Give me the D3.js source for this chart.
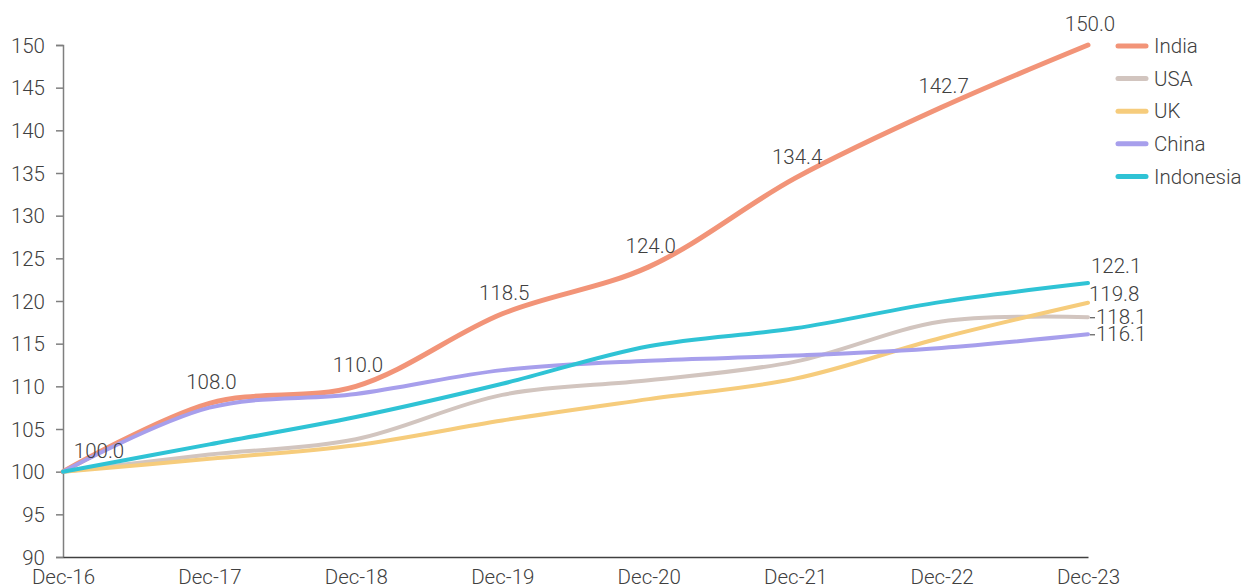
<!DOCTYPE html>
<html><head><meta charset="utf-8">
<script src="https://cdn.jsdelivr.net/npm/d3@7"></script>
<style>
html,body{margin:0;padding:0;background:#fff;}
svg{display:block;font-family:"Roboto";}
</style></head>
<body><svg id="chart" width="1244" height="585"></svg>
<script>
const categories = ["Dec-16","Dec-17","Dec-18","Dec-19","Dec-20","Dec-21","Dec-22","Dec-23"];
const seriesNames = ["India","USA","UK","China","Indonesia"];
const india     = [100.0,108.0,110.0,118.5,124.0,134.4,142.7,150.0];
const usa       = [100.0,102.0,103.8,109.0,110.7,112.9,117.6,118.1];
const uk        = [100.0,101.5,103.1,106.0,108.5,110.9,115.7,119.8];
const china     = [100.0,107.5,109.1,111.9,113.0,113.6,114.5,116.1];
const indonesia = [100.0,103.2,106.4,110.3,114.7,116.8,119.9,122.1];
const yTicks = [90,95,100,105,110,115,120,125,130,135,140,145,150];

const colors = {India:"#F29478",USA:"#D2C5BF",UK:"#F6CC7C",China:"#A79FEC",Indonesia:"#2FC3D5"};
const dataMap = {India:india,USA:usa,UK:uk,China:china,Indonesia:indonesia};

const svg = d3.select("#chart");
const x = d3.scalePoint().domain(categories).range([63,1088]);
const y = d3.scaleLinear().domain([90,150]).range([557,45]);
const textColor = "#404040";
const fs = "20.5px";
const fw = 300;

// Y axis
const ya = svg.append("g").attr("transform","translate(63,0)")
  .call(d3.axisLeft(y).tickValues(yTicks).tickSize(7).tickPadding(11).tickFormat(d3.format("d")));
ya.select(".domain").attr("stroke","#7f7f7f").attr("stroke-width",1.5);
ya.selectAll(".tick line").attr("stroke","#7f7f7f").attr("stroke-width",1.5);
ya.selectAll(".tick text").attr("fill",textColor).style("font-size",fs).style("font-weight",fw)
  .style("font-family","Roboto").attr("dy","0.35em");

// X axis
const xa = svg.append("g").attr("transform","translate(0,557)")
  .call(d3.axisBottom(x).tickSize(0).tickPadding(12));
xa.select(".domain").attr("stroke","#404040").attr("stroke-width",1.5);
xa.selectAll(".tick text").attr("fill",textColor).style("font-size",fs).style("font-weight",fw)
  .style("font-family","Roboto").attr("dy","0.75em");

// Lines
const line = d3.line().x((d,i)=>x(categories[i])).y(d=>y(d)).curve(d3.curveCatmullRom.alpha(0.5));
seriesNames.forEach(name=>{
  svg.append("path").datum(dataMap[name])
    .attr("fill","none").attr("stroke",colors[name])
    .attr("stroke-width", name==="India"?5:4)
    .attr("stroke-linecap","round").attr("stroke-linejoin","round")
    .attr("d",line);
});

// India labels
svg.append("g").selectAll("text").data(india).join("text")
  .attr("x",(d,i)=>x(categories[i]) + (i===0?36:2))
  .attr("y",d=>y(d)-14)
  .attr("text-anchor","middle").attr("fill",textColor)
  .style("font-size",fs).style("font-weight",fw)
  .text(d=>d3.format(".1f")(d));

// End labels for other series
const last = categories.length-1;
const endLabels = [
  {name:"Indonesia", dx:3, dy:-10, dash:false},
  {name:"UK", dx:1, dy:-2, dash:false},
  {name:"USA", dx:8, dy:7, dash:true},
  {name:"China", dx:8, dy:7, dash:true}
];
endLabels.forEach(l=>{
  const v = dataMap[l.name][last];
  const px = x(categories[last]), py = y(v);
  if(l.dash){
    svg.append("line").attr("x1",px+2).attr("x2",px+7).attr("y1",py+0.5).attr("y2",py+0.5)
      .attr("stroke","#595959").attr("stroke-width",1.2);
  }
  svg.append("text").attr("x",px+l.dx).attr("y",py+l.dy)
    .attr("fill",textColor).style("font-size",fs).style("font-weight",fw)
    .text(d3.format(".1f")(v));
});

// Legend
const lg = svg.append("g");
seriesNames.forEach((name,i)=>{
  const ly = 46 + i*32.6;
  lg.append("line").attr("x1",1118).attr("x2",1146).attr("y1",ly).attr("y2",ly)
    .attr("stroke",colors[name]).attr("stroke-width",5).attr("stroke-linecap","round");
  lg.append("text").attr("x",1154).attr("y",ly).attr("dy","0.35em")
    .attr("fill",textColor).style("font-size",fs).style("font-weight",fw).text(name);
});
</script></body></html>
